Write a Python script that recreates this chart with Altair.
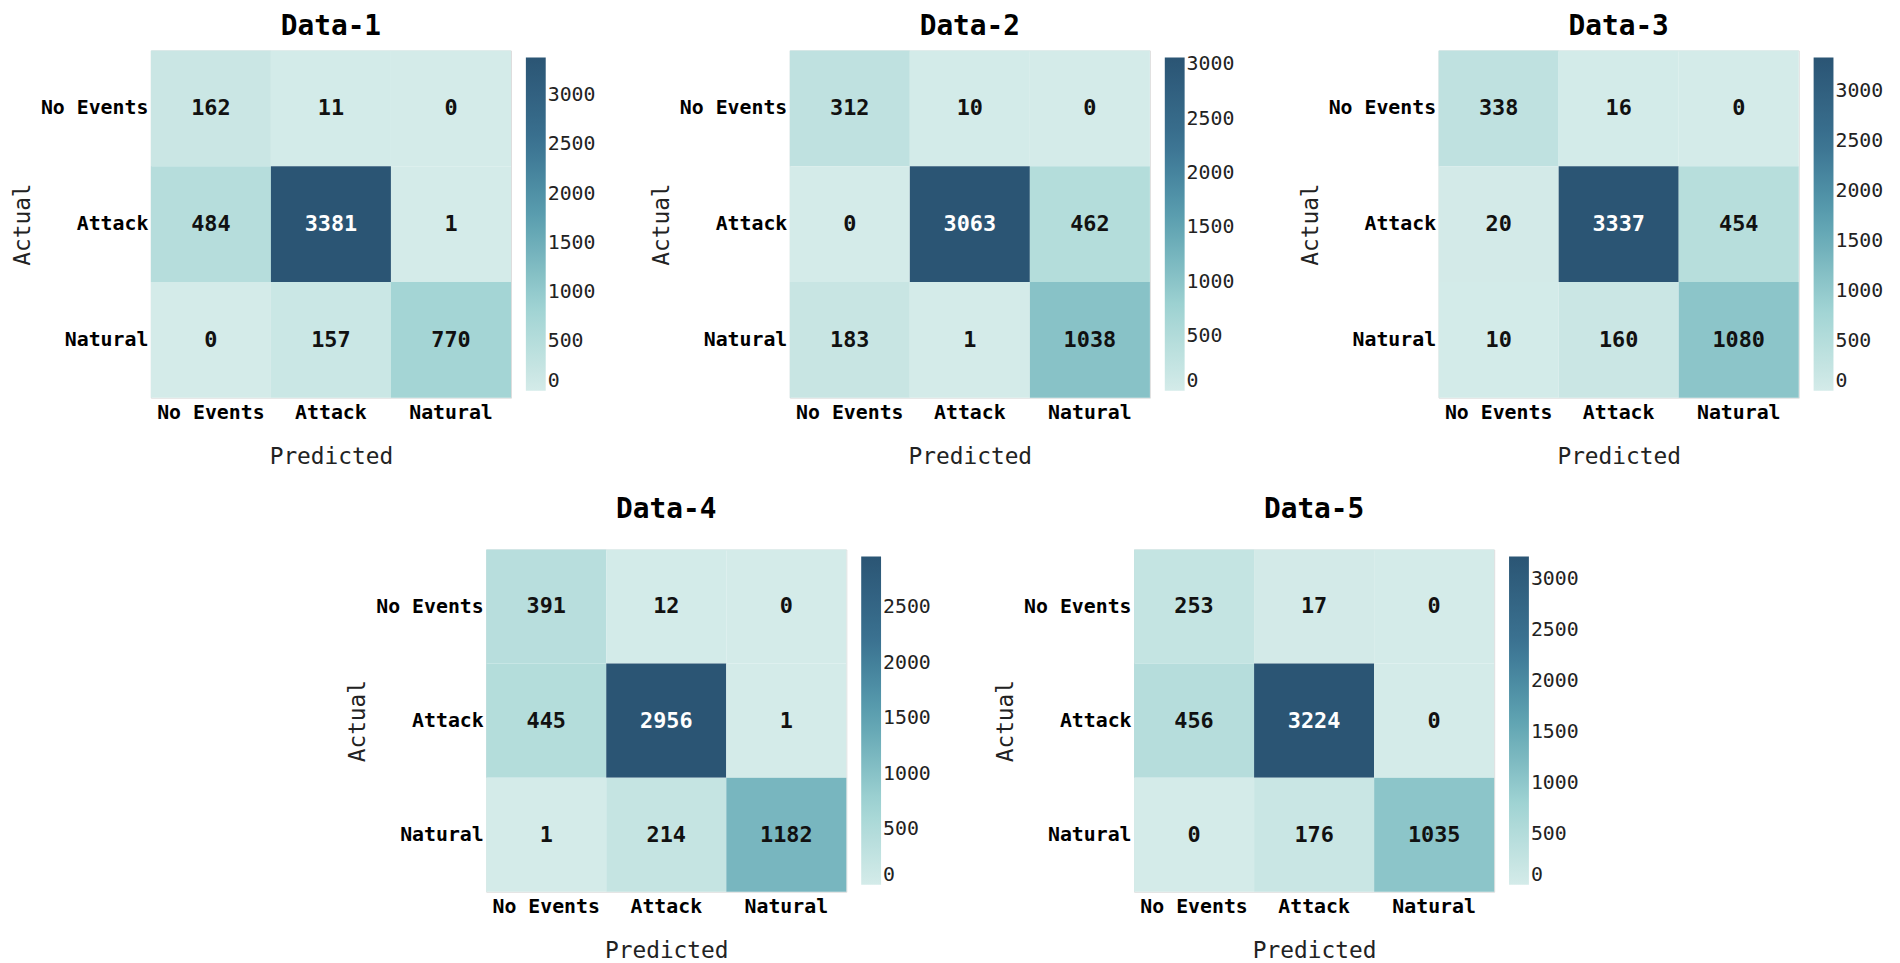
import altair as alt
import pandas as pd

FONT = "DejaVu Sans Mono"

classes = ["No Events", "Attack", "Natural"]
titles = ["Data-1", "Data-2", "Data-3", "Data-4", "Data-5"]

data1 = [[162, 11, 0], [484, 3381, 1], [0, 157, 770]]
data2 = [[312, 10, 0], [0, 3063, 462], [183, 1, 1038]]
data3 = [[338, 16, 0], [20, 3337, 454], [10, 160, 1080]]
data4 = [[391, 12, 0], [445, 2956, 1], [1, 214, 1182]]
data5 = [[253, 17, 0], [456, 3224, 0], [0, 176, 1035]]

ticks_a = [0, 500, 1000, 1500, 2000, 2500, 3000]
ticks_b = [0, 500, 1000, 1500, 2000, 2500]

cmap = ["#d4ebe9", "#9fd3d3", "#5fa3b2", "#3a7190", "#2b5574"]


def panel(title, matrix, ticks, title_offset, height):
    rows = []
    for i, a in enumerate(classes):
        for j, p in enumerate(classes):
            rows.append({"Actual": a, "Predicted": p, "value": matrix[i][j]})
    df = pd.DataFrame(rows)
    vmax = max(max(r) for r in matrix)
    xenc = alt.X(
        "Predicted:N", sort=classes,
        scale=alt.Scale(paddingInner=0, paddingOuter=0),
        axis=alt.Axis(title="Predicted", labelAngle=0, domain=False, ticks=False,
                      labelPadding=5, titlePadding=23, labelFontSize=20,
                      labelFontWeight="bold", labelColor="#000", titleFontSize=23,
                      titleFontWeight="normal", titleColor="#222", labelFont=FONT,
                      titleFont=FONT),
    )
    yenc = alt.Y(
        "Actual:N", sort=classes,
        scale=alt.Scale(paddingInner=0, paddingOuter=0),
        axis=alt.Axis(title="Actual", labelAngle=0, domain=False, ticks=False,
                      labelPadding=3, titlePadding=6, labelFontSize=20,
                      labelFontWeight="bold", labelColor="#000", titleFontSize=23,
                      titleFontWeight="normal", titleColor="#222", labelFont=FONT,
                      titleFont=FONT),
    )
    base = alt.Chart(df)
    rect = base.mark_rect().encode(
        x=xenc,
        y=yenc,
        color=alt.Color(
            "value:Q",
            scale=alt.Scale(domain=[0, vmax], range=cmap, nice=False, zero=True),
            legend=alt.Legend(title=None, values=ticks, format="d",
                              direction="vertical", orient="right",
                              gradientLength=height - 14, gradientThickness=20,
                              gradientStrokeWidth=0, labelFont=FONT,
                              labelFontSize=20, labelColor="#222",
                              labelPadding=5, offset=8, padding=7),
        ),
    )
    text = base.mark_text(font=FONT, fontSize=22, fontWeight="bold").encode(
        x=alt.X("Predicted:N", sort=classes),
        y=alt.Y("Actual:N", sort=classes),
        text="value:Q",
        color=alt.condition(alt.datum.value > vmax * 0.6, alt.value("#ffffff"),
                            alt.value("#111111")),
    )
    return alt.layer(rect, text).properties(
        width=363, height=height,
        title=alt.TitleParams(title, font=FONT, fontSize=28, fontWeight="bold",
                              anchor="middle", frame="group",
                              offset=title_offset, color="#000"),
    )


p1 = panel(titles[0], data1, ticks_a, 10, 350)
p2 = panel(titles[1], data2, ticks_a, 10, 350)
p3 = panel(titles[2], data3, ticks_a, 10, 350)
p4 = panel(titles[3], data4, ticks_b, 26, 345)
p5 = panel(titles[4], data5, ticks_a, 26, 345)

spacer = alt.Chart(pd.DataFrame({"s": [0]})).mark_rect(opacity=0).encode(
    x=alt.value(0), x2=alt.value(1), y=alt.value(0), y2=alt.value(1)
).properties(width=142, height=10,
             view=alt.ViewBackground(stroke="transparent", strokeWidth=0))

right_top = alt.hconcat(p2, p3, spacing=56).resolve_scale(
    color="independent", x="independent", y="independent")
top = alt.hconcat(p1, right_top, spacing=46).resolve_scale(
    color="independent", x="independent", y="independent")
bottom = alt.hconcat(spacer, p4, p5, spacing=55).resolve_scale(
    color="independent", x="independent", y="independent")

chart = alt.vconcat(top, bottom, spacing=26).resolve_scale(
    color="independent", x="independent", y="independent"
).properties(
    padding={"left": 3, "top": 0, "right": 0, "bottom": 0}
).configure_view(stroke="transparent", strokeWidth=0).configure(font=FONT)

chart.save("out.html", embed_options={"renderer": "svg", "actions": False})
